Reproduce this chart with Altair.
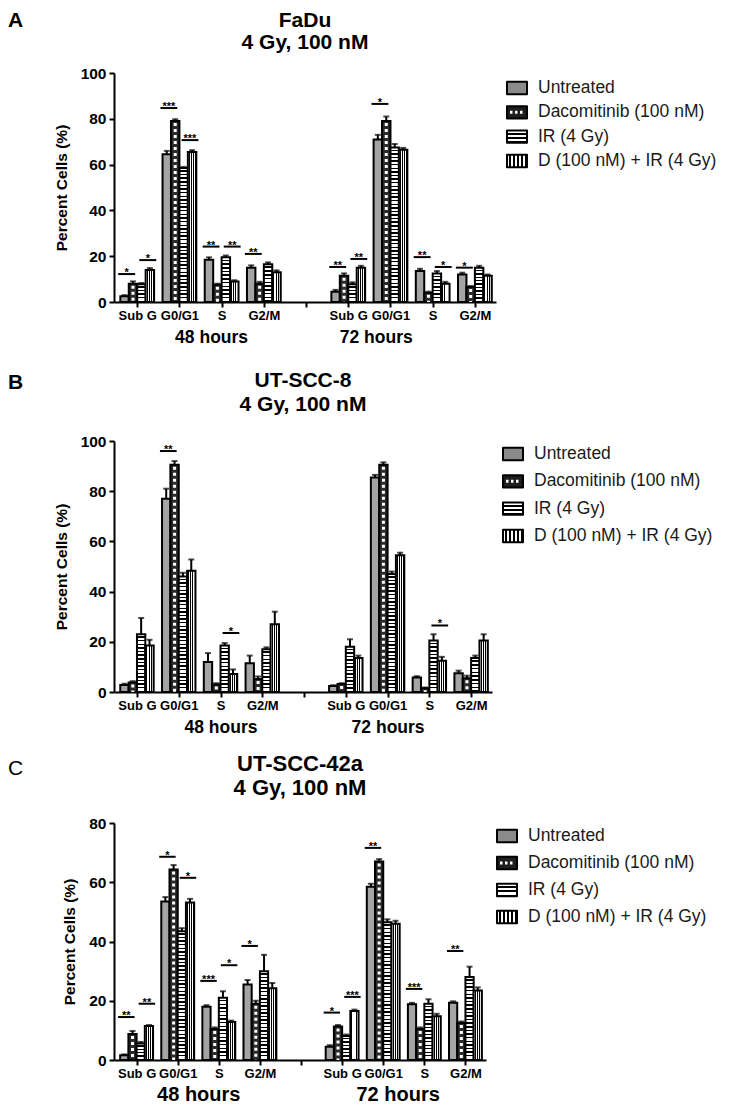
import altair as alt
import pandas as pd

FONT = "Liberation Sans"

phases = ["Sub G", "G0/G1", "S", "G2/M"]
times = ["48 hours", "72 hours"]
treatments = ["Untreated", "Dacomitinib (100 nM)", "IR (4 Gy)", "D (100 nM) + IR (4 Gy)"]

# ---------- A: FaDu  (48 h: Sub G, G0/G1, S, G2/M | 72 h: Sub G, G0/G1, S, G2/M) ----------
fadu_title = ["FaDu", "4 Gy, 100 nM"]
fadu_untreated = [2.5, 64.5, 18.5, 15.0, 4.5, 71.0, 13.5, 12.0]
fadu_dacomitinib = [8.0, 79.0, 7.5, 8.0, 11.5, 79.0, 4.0, 6.5]
fadu_ir = [7.8, 58.5, 19.5, 16.5, 7.8, 67.5, 12.5, 15.0]
fadu_combo = [14.0, 65.5, 9.0, 13.0, 15.0, 66.5, 8.0, 11.5]
fadu_err_untreated = [0.5, 1.5, 1.0, 1.0, 0.8, 2.0, 1.0, 0.8]
fadu_err_dacomitinib = [1.0, 0.8, 0.5, 0.8, 1.0, 2.0, 0.5, 0.5]
fadu_err_ir = [0.5, 0.5, 0.8, 0.8, 0.8, 1.5, 1.0, 0.8]
fadu_err_combo = [0.8, 0.8, 0.5, 0.8, 0.8, 0.8, 0.8, 0.5]
fadu_sig_time = [0, 0, 0, 0, 0, 0, 0, 1, 1, 1, 1, 1, 1]
fadu_sig_phase = [0, 0, 1, 1, 2, 2, 3, 0, 0, 1, 2, 2, 3]
fadu_sig_pair = [0, 1, 0, 1, 0, 1, 0, 0, 1, 0, 0, 1, 0]
fadu_sig_y = [12.2, 18.3, 84.7, 70.7, 24.2, 24.2, 21.0, 15.3, 18.8, 86.5, 19.6, 15.3, 15.0]
fadu_sig_label = ["*", "*", "***", "***", "**", "**", "**", "**", "**", "*", "**", "*", "*"]
fadu_time_label_pos = [1.75, 5.65]

# ---------- B: UT-SCC-8 ----------
scc8_title = ["UT-SCC-8", "4 Gy, 100 nM"]
scc8_untreated = [2.8, 77.0, 12.0, 11.5, 2.4, 85.5, 5.8, 7.5]
scc8_dacomitinib = [3.8, 90.5, 3.0, 5.2, 3.2, 90.5, 1.5, 5.5]
scc8_ir = [23.0, 46.0, 18.5, 17.0, 18.0, 47.0, 20.5, 13.5]
scc8_combo = [18.5, 48.3, 7.2, 27.0, 13.5, 54.5, 12.5, 20.5]
scc8_err_untreated = [0.5, 4.0, 3.5, 3.0, 0.3, 1.0, 0.5, 1.0]
scc8_err_dacomitinib = [0.5, 1.5, 0.5, 1.0, 0.3, 1.0, 0.3, 1.0]
scc8_err_ir = [6.5, 1.5, 1.0, 0.8, 3.0, 1.0, 2.5, 1.0]
scc8_err_combo = [2.3, 4.5, 1.8, 5.0, 1.0, 1.0, 1.5, 2.5]
scc8_sig_time = [0, 0, 1]
scc8_sig_phase = [1, 2, 2]
scc8_sig_pair = [0, 1, 1]
scc8_sig_y = [96.0, 23.5, 26.5]
scc8_sig_label = ["**", "*", "*"]
scc8_time_label_pos = [2.0, 6.0]

# ---------- C: UT-SCC-42a ----------
scc42_title = ["UT-SCC-42a", "4 Gy, 100 nM"]
scc42_untreated = [1.6, 53.5, 18.0, 25.5, 4.5, 58.5, 18.8, 19.3]
scc42_dacomitinib = [8.8, 64.3, 10.5, 19.0, 11.3, 67.0, 10.5, 12.5]
scc42_ir = [5.6, 43.5, 21.0, 30.0, 8.1, 46.5, 19.0, 28.0]
scc42_combo = [11.5, 53.2, 12.8, 24.2, 16.5, 46.0, 14.8, 23.5]
scc42_err_untreated = [0.3, 1.5, 0.5, 1.5, 0.5, 1.0, 0.5, 0.5]
scc42_err_dacomitinib = [1.0, 1.5, 0.5, 1.0, 0.5, 0.8, 0.5, 0.5]
scc42_err_ir = [0.5, 1.0, 2.2, 5.5, 0.5, 1.0, 1.5, 3.5]
scc42_err_combo = [0.3, 1.2, 0.5, 1.8, 0.5, 1.0, 0.8, 1.0]
scc42_sig_time = [0, 0, 0, 0, 0, 0, 0, 1, 1, 1, 1, 1]
scc42_sig_phase = [0, 0, 1, 1, 2, 2, 3, 0, 0, 1, 2, 3]
scc42_sig_pair = [0, 1, 0, 1, 0, 1, 0, 0, 1, 0, 0, 0]
scc42_sig_y = [14.5, 19.0, 68.6, 61.5, 26.7, 32.0, 38.5, 16.0, 21.3, 71.6, 24.0, 36.8]
scc42_sig_label = ["**", "**", "*", "*", "***", "*", "*", "*", "***", "**", "***", "**"]
scc42_time_label_pos = [1.5, 6.35]

# ---------------- styling ----------------
BAR = 0.2          # bar width as a fraction of one phase slot
NSLOT = len(phases) + 1
STRIPE_PX = 3.6    # period of the horizontal hatching of the IR bars


def stripes(n, vertical, black=0.45):
    stops = []
    for i in range(n):
        a, c = i / n, (i + 1) / n
        b = a + (1 - black) / n
        stops += [alt.GradientStop(color="white", offset=a), alt.GradientStop(color="white", offset=b),
                  alt.GradientStop(color="black", offset=b), alt.GradientStop(color="black", offset=c)]
    if vertical:
        return alt.LinearGradient(gradient="linear", stops=stops, x1=0, x2=1, y1=0, y2=0)
    return alt.LinearGradient(gradient="linear", stops=stops, x1=0, x2=0, y1=0, y2=1)


BAR_FILLS = ["#a4a4a4", "#2b2b2b", None, stripes(4, True, 0.45)]
SWATCH_FILLS = ["#8a8a8a", "#1e1e1e", stripes(3, False, 0.4), stripes(5, True, 0.5)]
SWATCH = "M-1,-0.62L1,-0.62L1,0.62L-1,0.62Z"


def bar_frame(vals, errs, ymax, H):
    rows = []
    for ti, tr in enumerate(treatments):
        for k, (v, e) in enumerate(zip(vals[ti], errs[ti])):
            time_i, ph_i = divmod(k, len(phases))
            slot = time_i * NSLOT + ph_i
            rows.append({"treatment": tr, "phase": phases[ph_i], "time": times[time_i],
                         "value": v, "top": v + e, "base": 0,
                         "x0": slot + (ti - 2) * BAR, "x1": slot + (ti - 1) * BAR,
                         "xc": slot + (ti - 1.5) * BAR,
                         "nstripe": max(1, round(v / ymax * H / STRIPE_PX))})
    return pd.DataFrame(rows)


def sig_frame(t, p, pair, y, lab):
    rows = []
    for a, b, c, d, s in zip(t, p, pair, y, lab):
        slot = a * NSLOT + b
        lo = slot - 2.25 * BAR if c == 0 else slot + 0.25 * BAR
        rows.append({"x0": lo, "x1": lo + 2 * BAR, "xc": lo + BAR, "y": d, "label": s})
    return pd.DataFrame(rows)


def panel(letter, letter_weight, letter_y, title, title_y, vals, errs, sig, ymax, W, H,
          leg_range, title_size, group_pos, group_size, group_pad):
    df = bar_frame(vals, errs, ymax, H)
    sg = sig_frame(*sig)
    xs = alt.Scale(domain=[-0.55, 2 * NSLOT - 1.5], nice=False, zero=False)
    ys = alt.Scale(domain=[0, ymax], nice=False, zero=True)

    lab_expr = "[" + ",".join(repr(p) for p in phases + [""]) + f"][datum.value % {NSLOT}]"
    x_axis = alt.Axis(values=list(range(2 * NSLOT - 1)), labelExpr=lab_expr, title=None, grid=False,
                      domainColor="black", domainWidth=2, tickColor="black", tickWidth=2, tickSize=5,
                      labelFont=FONT, labelFontSize=13, labelFontWeight="bold", labelColor="black",
                      labelPadding=2, labelAngle=0, labelFlush=False, labelOverlap=False)
    y_axis = alt.Axis(values=list(range(0, ymax + 1, 20)), title="Percent Cells (%)", grid=False,
                      domainColor="black", domainWidth=2, tickColor="black", tickWidth=2, tickSize=5,
                      labelFont=FONT, labelFontSize=15.5, labelFontWeight="bold", labelColor="black",
                      labelPadding=3, titleFont=FONT, titleFontSize=15.5, titleFontWeight="bold",
                      titleColor="black", titlePadding=11)

    def Y(field):
        return alt.Y(field, scale=ys, axis=y_axis)

    def bar_layer(sub, fill, first):
        return sub.mark_rect(fill=fill, stroke="black", strokeWidth=2).encode(
            x=alt.X("x0:Q", scale=xs, axis=x_axis if first else None),
            x2="x1:Q", y=Y("value:Q"), y2="base:Q")

    layers = []
    for ti, tr in enumerate(treatments):
        sub = alt.Chart(df).transform_filter(alt.datum.treatment == tr)
        if BAR_FILLS[ti] is None:
            # horizontal hatching: one layer per stripe count so the hatch period stays constant
            for n in sorted(df.loc[df.treatment == tr, "nstripe"].unique()):
                layers.append(bar_layer(sub.transform_filter(alt.datum.nstripe == int(n)),
                                        stripes(int(n), False, 0.4), False))
        else:
            layers.append(bar_layer(sub, BAR_FILLS[ti], ti == 0))
        if ti == 1:
            layers.append(sub.mark_rule(color="white", strokeWidth=3, strokeDash=[3, 3],
                                        strokeDashOffset=4).encode(
                x=alt.X("xc:Q", scale=xs, axis=None), y=Y("value:Q"), y2="base:Q"))

    base = alt.Chart(df)
    layers.append(base.mark_rule(color="black", strokeWidth=2).encode(
        x=alt.X("xc:Q", scale=xs, axis=None), y=Y("value:Q"), y2="top:Q"))
    layers.append(base.mark_tick(orient="horizontal", size=6, thickness=2, color="black").encode(
        x=alt.X("xc:Q", scale=xs, axis=None), y=Y("top:Q")))

    sbase = alt.Chart(sg)
    layers.append(sbase.mark_rule(color="black", strokeWidth=2).encode(
        x=alt.X("x0:Q", scale=xs, axis=None), x2="x1:Q", y=Y("y:Q")))
    layers.append(sbase.mark_text(font=FONT, fontSize=11, fontWeight="bold", color="black",
                                  baseline="alphabetic", dy=2).encode(
        x=alt.X("xc:Q", scale=xs, axis=None), y=Y("y:Q"), text="label:N"))

    gdf = pd.DataFrame({"time": times, "center": group_pos})
    g_expr = "[" + ",".join(repr(t) for t in times) + f"][floor(datum.value / {NSLOT})]"
    layers.append(alt.Chart(gdf).mark_point(opacity=0).encode(
        x=alt.X("center:Q", scale=xs,
                axis=alt.Axis(orient="bottom", values=list(gdf["center"]), labelExpr=g_expr, title=None,
                              domain=False, ticks=False, grid=False, labelFont=FONT,
                              labelFontSize=group_size, labelFontWeight="bold", labelColor="black",
                              labelPadding=group_pad, labelFlush=False, labelOverlap=False))))

    plot = alt.layer(*layers).resolve_axis(x="independent")

    ldf = pd.DataFrame({"treatment": treatments})
    ly = alt.Y("treatment:N", scale=alt.Scale(type="point", domain=treatments, range=leg_range, padding=0),
               axis=None)
    leg = []
    for ti, tr in enumerate(treatments):
        lsub = alt.Chart(ldf).transform_filter(alt.datum.treatment == tr)
        leg.append(lsub.mark_point(shape=SWATCH, size=400, filled=True, opacity=1,
                                   fill=SWATCH_FILLS[ti], stroke="black", strokeWidth=2,
                                   strokeJoin="round").encode(x=alt.value(W + 21), y=ly))
        if ti == 1:
            leg.append(lsub.mark_rule(color="white", strokeWidth=3, strokeDash=[2.5, 2.5]).encode(
                x=alt.value(W + 14), x2=alt.value(W + 29), y=ly))
    leg.append(alt.Chart(ldf).mark_text(align="left", baseline="middle", font=FONT, fontSize=17.5,
                                        color="#1a1a1a").encode(
        x=alt.value(W + 42), y=ly, text="treatment:N"))
    legend = alt.layer(*leg)

    deco = [alt.Chart(pd.DataFrame({"letter": [letter]})).mark_text(
        align="left", baseline="middle", font=FONT, fontSize=21, fontWeight=letter_weight,
        color="black").encode(x=alt.value(-106), y=alt.value(letter_y), text="letter:N")]
    for i, line in enumerate(title):
        deco.append(alt.Chart(pd.DataFrame({"line": [line]})).mark_text(
            align="center", baseline="middle", font=FONT, fontSize=title_size, fontWeight="bold",
            color="black").encode(x=alt.value(W / 2), y=alt.value(title_y[i]), text="line:N"))

    return alt.layer(plot, legend, *deco).resolve_scale(y="independent").properties(width=W, height=H)


pA = panel("A", "bold", -52, fadu_title, [-52, -30],
           [fadu_untreated, fadu_dacomitinib, fadu_ir, fadu_combo],
           [fadu_err_untreated, fadu_err_dacomitinib, fadu_err_ir, fadu_err_combo],
           (fadu_sig_time, fadu_sig_phase, fadu_sig_pair, fadu_sig_y, fadu_sig_label),
           100, 382, 229, [15, 88], 21, fadu_time_label_pos, 17.5, 26)
pB = panel("B", "bold", -58, scc8_title, [-60, -36],
           [scc8_untreated, scc8_dacomitinib, scc8_ir, scc8_combo],
           [scc8_err_untreated, scc8_err_dacomitinib, scc8_err_ir, scc8_err_combo],
           (scc8_sig_time, scc8_sig_phase, scc8_sig_pair, scc8_sig_y, scc8_sig_label),
           100, 378, 251, [13, 95], 21, scc8_time_label_pos, 17.5, 26)
pC = panel("C", "normal", -54, scc42_title, [-59, -35],
           [scc42_untreated, scc42_dacomitinib, scc42_ir, scc42_combo],
           [scc42_err_untreated, scc42_err_dacomitinib, scc42_err_ir, scc42_err_combo],
           (scc42_sig_time, scc42_sig_phase, scc42_sig_pair, scc42_sig_y, scc42_sig_label),
           80, 372, 237, [13, 94], 22, scc42_time_label_pos, 20, 24)

chart = alt.vconcat(pA, alt.vconcat(pB, pC, spacing=17), spacing=24).properties(
    padding={"left": 0, "top": 2, "right": 0, "bottom": 0}
).configure_view(stroke=None)

chart.save("out.html", embed_options={"renderer": "svg", "actions": False})
